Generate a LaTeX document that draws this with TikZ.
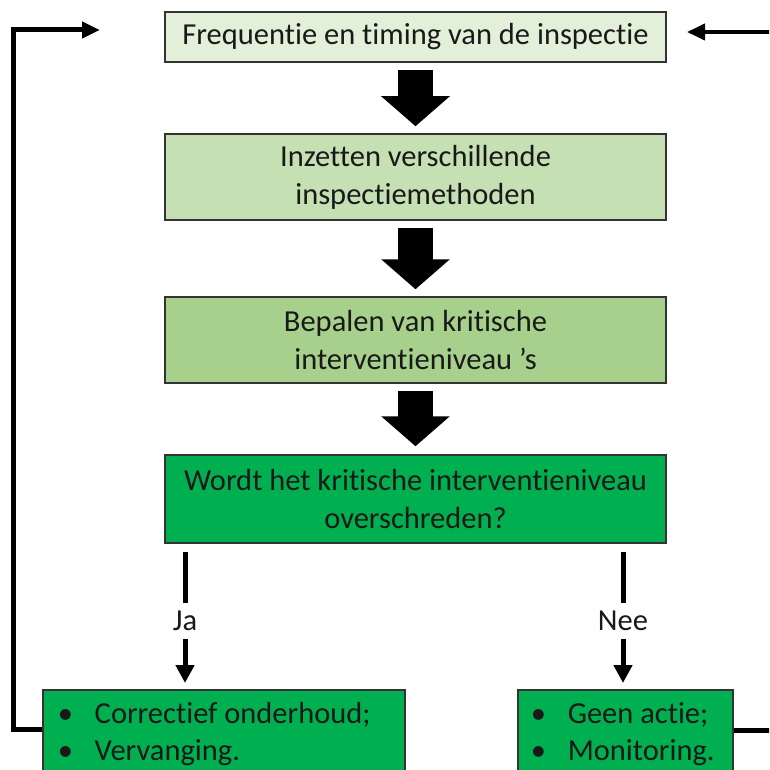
\documentclass[tikz,border=0pt]{standalone}
\usepackage{fontspec}
\setmainfont{Carlito}[Ligatures=NoCommon]
\usetikzlibrary{arrows.meta}
\definecolor{groen1}{HTML}{E2EFD9}
\definecolor{groen2}{HTML}{C5E0B3}
\definecolor{groen3}{HTML}{A8D08D}
\definecolor{groen4}{HTML}{00B050}
\begin{document}
\begin{tikzpicture}[x=1pt, y=-1pt, font=\fontsize{30.5}{38}\selectfont,
	box/.style = {draw=black!80, line width=1.5pt, text=black!90, minimum width=501pt, align=center, inner sep=0pt},
	lijst/.style = {draw=black!80, line width=1.5pt, fill=groen4, text=black!90, anchor=north west, align=flush left, inner ysep=13pt, font=\fontsize{30.5}{37}\selectfont},
	bigarrow/.style = {line width=35pt, -{Triangle[width=67pt,length=30pt]}},
	keuze/.style = {line width=5pt, shorten >=6pt, -{Triangle[width=18pt,length=18pt]}},
	antwoord/.style = {fill=white, inner sep=0pt, minimum height=36pt, text=black!90},
	terug/.style = {line width=5pt, -{Triangle[width=16pt,length=18pt]}}]
	\useasboundingbox (0,0) rectangle (769,770);
	\clip (0,0) rectangle (769,770);
	
	\node[box, fill=groen1, minimum height=50pt] (freq) at (415.5,37) {Frequentie en timing van de inspectie};
	\node[box, fill=groen2, minimum height=86pt] (methode) at (415.5,177) {Inzetten verschillende\\inspectiemethoden};
	\node[box, fill=groen3, minimum height=86pt] (niveau) at (415.5,340) {Bepalen van kritische\\interventieniveau ’s};
	\node[box, fill=groen4, minimum height=88pt] (vraag) at (415.5,499) {Wordt het kritische interventieniveau\\overschreden?};
	
	\node[lijst, text width=332pt, inner xsep=15pt] (ja) at (42,689) {\makebox[37pt][l]{\textbullet}Correctief onderhoud;\\\makebox[37pt][l]{\textbullet}Vervanging.};
	\node[lijst, text width=189pt, inner xsep=13pt] (nee) at (517,689) {\makebox[37pt][l]{\textbullet}Geen actie;\\\makebox[37pt][l]{\textbullet}Monitoring.};
	
	\draw[bigarrow] ([yshift=-7pt]freq.south) -- ([yshift=7pt]methode.north);
	\draw[bigarrow] ([yshift=-7pt]methode.south) -- ([yshift=7pt]niveau.north);
	\draw[bigarrow] ([yshift=-7pt]niveau.south) -- ([yshift=8pt]vraag.north);
	
	\coordinate (jabegin) at (185,552);
	\coordinate (neebegin) at (623,552);
	\draw[keuze] (jabegin) -- node[antwoord] {Ja} (jabegin |- ja.north);
	\draw[keuze] (neebegin) -- node[antwoord] {Nee} (neebegin |- nee.north);
	
	% terugkoppeling naar het begin
	\coordinate (lhoek) at (13,30);
	\coordinate (ltip) at (100,30);
	\draw[terug] ([yshift=-40pt]ja.north west) -| (lhoek) -- (ltip);
	\coordinate (rbegin) at (790,32);
	\coordinate (rtip) at (687,32);
	\draw[line width=5pt] ([yshift=-41pt]nee.north east) -- ++(60,0);
	\draw[terug, line width=4pt] (rbegin) -- (rtip);
\end{tikzpicture}
\end{document}
